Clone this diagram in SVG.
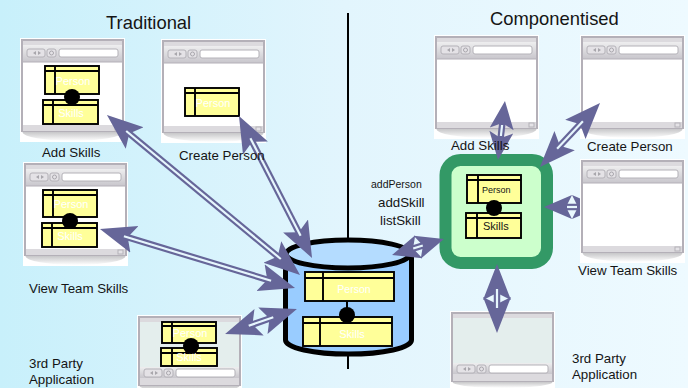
<svg xmlns="http://www.w3.org/2000/svg" width="688" height="388" viewBox="0 0 688 388">
<style>
text{font-family:"Liberation Sans",Arial,sans-serif;fill:#151515}
.lb{font-size:13.3px}
.ttl{font-size:18.4px}
.in{font-size:11px;fill:#fff;text-anchor:middle}
.box{fill:#ffff99;stroke:#000;stroke-width:1.9}
.div{fill:none;stroke:#000;stroke-width:1.9}
.dot{fill:#000}
.shaft{fill:none;stroke:#666699;stroke-width:6.5}
.gap{fill:none;stroke:#e6f6fd;stroke-width:2.2}
.frm{fill:#fff;stroke:#b4b0b8;stroke-width:2}
.bar{fill:#dcdade;stroke:none}
.ctl{fill:#e4e2e6;stroke:#b4b2b8;stroke-width:1}
.fld{fill:#fff;stroke:#b4b2b8;stroke-width:1}
</style>
<defs>
<linearGradient id="bg" x1="0" x2="1" y1="0" y2="0">
<stop offset="0" stop-color="#c8f0fb"/><stop offset=".5" stop-color="#e2f5fd"/><stop offset="1" stop-color="#eefaff"/>
</linearGradient>
<linearGradient id="shd" x1="0" x2="0" y1="0" y2="1">
<stop offset="0" stop-color="#8e8e92"/><stop offset="1" stop-color="#ffffff"/>
</linearGradient>
<linearGradient id="tool" x1="0" x2="0" y1="0" y2="1">
<stop offset="0" stop-color="#eeeeef"/><stop offset="1" stop-color="#c8c6cc"/>
</linearGradient>
<marker id="hd" markerUnits="userSpaceOnUse" markerWidth="40" markerHeight="32" refX="11" refY="16" orient="auto-start-reverse">
<path d="M0,2 L7,16 L0,30 L36,16 Z" fill="#666699"/>
</marker>
<marker id="hs" markerUnits="userSpaceOnUse" markerWidth="32" markerHeight="30" refX="18" refY="15" orient="auto-start-reverse">
<path d="M0,3 L6,15 L0,27 L28,15 Z" fill="#666699"/>
</marker>
<g id="ctrls">
<rect class="ctl" x="6" y="0" width="18" height="8" rx="2"/>
<rect class="ctl" x="26" y="0" width="9" height="8" rx="2"/>
<rect class="fld" x="38" y="0" width="59" height="8" rx="2"/>
<path d="M12,4 l3,-2 v4 z M20,4 l-3,-2 v4 z" fill="#a8a6ac"/>
<circle cx="30.5" cy="4" r="2" fill="none" stroke="#a8a6ac"/>
</g>
<g id="win">
<rect x="-1" y="-1" width="105" height="104" fill="#fff"/>
<ellipse cx="51.5" cy="93" rx="50" ry="9" fill="url(#shd)"/>
<rect class="frm" x="1" y="1" width="101" height="91"/>
<rect class="bar" x="2" y="2" width="99" height="4"/>
<rect x="2" y="6" width="99" height="17" fill="url(#tool)"/>
<use href="#ctrls" x="0" y="10"/>
<path d="M2,23 H101" stroke="#b4b0b8" stroke-width="1"/>
<rect class="bar" x="2" y="86" width="99" height="6"/>
<rect class="ctl" x="94" y="87" width="5" height="4"/>
</g>
<g id="win3">
<rect x="-1" y="-1" width="105" height="80" fill="#fff"/>
<ellipse cx="51.5" cy="70" rx="50" ry="6" fill="url(#shd)"/>
<rect class="frm" x="1" y="1" width="101" height="68" style="fill:#e4eeed"/>
<rect class="bar" x="2" y="2" width="99" height="4"/>
<rect x="2" y="51" width="99" height="11" fill="url(#tool)"/>
<use href="#ctrls" x="0" y="53"/>
<rect class="bar" x="2" y="62" width="99" height="7"/>
</g>
</defs>
<rect id="background" width="688" height="388" fill="url(#bg)"/>
<path id="divider" d="M348,13 V240 M348,354 V369" stroke="#000" stroke-width="2" fill="none"/>
<text class="ttl" x="106" y="29">Traditional</text>
<text class="ttl" x="490" y="25">Componentised</text>

<g id="add-skills-left">
<use href="#win" x="21" y="39"/>
<rect class="box" x="45" y="66" width="54" height="28"/><path class="div" d="M45,71 H99 M55,66 V94"/>
<text class="in" x="73" y="85">Person</text>
<rect class="box" x="43" y="100" width="55" height="24"/><path class="div" d="M43,105 H98 M53,100 V124"/>
<text class="in" x="71" y="117">Skills</text>
<circle class="dot" cx="72" cy="97" r="8"/>
<text class="lb" x="42" y="157">Add Skills</text>
</g>
<g id="create-person-left">
<use href="#win" x="162" y="40"/>
<rect class="box" x="185" y="88" width="54" height="28"/><path class="div" d="M185,93 H239 M195,88 V116"/>
<text class="in" x="213" y="107">Person</text>
</g>
<g id="view-team-left">
<use href="#win" x="24" y="163"/>
<rect class="box" x="43" y="190" width="54" height="27"/><path class="div" d="M43,195 H97 M53,190 V217"/>
<text class="in" x="71" y="208">Person</text>
<rect class="box" x="42" y="223" width="55" height="24"/><path class="div" d="M42,228 H97 M52,223 V247"/>
<text class="in" x="70" y="240">Skills</text>
<circle class="dot" cx="70" cy="221" r="8"/>
<text class="lb" x="29" y="293">View Team Skills</text>
</g>
<g id="third-party-left">
<use href="#win3" x="138" y="316"/>
<rect class="box" x="162" y="322" width="54" height="21"/><path class="div" d="M162,326 H216 M172,322 V343"/>
<text class="in" x="190" y="337">Person</text>
<rect class="box" x="161" y="348" width="56" height="18"/><path class="div" d="M161,353 H217 M172,348 V366"/>
<text class="in" x="189" y="361">Skills</text>
<circle class="dot" cx="191" cy="346" r="8"/>
<text class="lb" x="29" y="368">3rd Party</text>
<text class="lb" x="29" y="384">Application</text>
</g>
<g id="database">
<path d="M285.5,254 V340 A62.5,14 0 0 0 411.5,340 V254 Z" fill="#99ccff" stroke="#000" stroke-width="5"/>
<ellipse cx="348" cy="254" rx="62" ry="14" fill="#b4dcff" stroke="#000" stroke-width="5"/>
<path d="M347,301 V317" stroke="#000" stroke-width="2"/>
<rect class="box" x="305" y="272" width="89" height="29"/><path class="div" d="M305,278 H394 M323,272 V301"/>
<text class="in" x="354" y="293" style="font-size:10.5px">Person</text>
<rect class="box" x="303" y="317" width="89" height="29"/><path class="div" d="M303,323 H392 M320,317 V346"/>
<text class="in" x="352" y="338">Skills</text>
<circle class="dot" cx="347" cy="315" r="8"/>
</g>
<g id="add-skills-right">
<use href="#win" x="435" y="36"/>
</g>
<g id="create-person-right">
<use href="#win" x="581" y="36"/>
<text class="lb" x="587" y="151">Create Person</text>
</g>
<g id="third-party-right">
<use href="#win3" x="451" y="312"/>
<text class="lb" x="572" y="363">3rd Party</text>
<text class="lb" x="572" y="379">Application</text>
</g>
<g id="component">
<rect x="445.5" y="160" width="101.5" height="103" rx="15" fill="#ccffcc" stroke="#339966" stroke-width="12"/>
<rect class="box" x="467" y="175" width="54" height="28"/><path class="div" d="M467,180 H521 M478,175 V203"/>
<text x="482" y="193" style="font-size:9px">Person</text>
<rect class="box" x="466" y="213" width="55" height="25"/><path class="div" d="M466,218 H521 M477,213 V238"/>
<text x="483" y="230" style="font-size:11px">Skills</text>
<circle class="dot" cx="494" cy="208" r="8"/>
</g>
<g id="api-labels">
<text x="371" y="188" style="font-size:10.5px">addPerson</text>
<text class="lb" x="378" y="207">addSkill</text>
<text class="lb" x="380" y="225">listSkill</text>
</g>
<g id="connectors">
<path class="shaft" d="M126.2,131 L280.8,259" marker-start="url(#hd)" marker-end="url(#hd)"/><path class="gap" d="M126.2,131 L280.8,259"/>
<path class="shaft" d="M250.4,138.2 L300.6,235.8" marker-start="url(#hd)" marker-end="url(#hd)"/><path class="gap" d="M250.4,138.2 L300.6,235.8"/>
<path class="shaft" d="M123.9,236.2 L271.1,280.8" marker-start="url(#hd)" marker-end="url(#hd)"/><path class="gap" d="M123.9,236.2 L271.1,280.8"/>
<path class="shaft" d="M248.7,325.8 L273.3,317.2" marker-start="url(#hd)" marker-end="url(#hd)"/><path class="gap" d="M248.7,325.8 L273.3,317.2"/>
<path class="shaft" d="M401.6,252.1 L434.4,241.9" marker-start="url(#hs)" marker-end="url(#hs)"/><path class="gap" d="M413.2,248.5 L422.8,245.5"/>
<path class="shaft" d="M503.8,111 L499.2,150" marker-start="url(#hs)" marker-end="url(#hs)"/><path class="gap" d="M502.1,125 L500.9,136"/>
<path class="shaft" d="M582.9,121.3 L557.1,148.7" marker-start="url(#hd)" marker-end="url(#hd)"/><path class="gap" d="M582.9,121.3 L557.1,148.7"/>
<path class="shaft" d="M554,207 L590,207" marker-start="url(#hs)" marker-end="url(#hs)"/><path class="gap" d="M567,207 L577,207"/>
<path class="shaft" d="M497,289 L497,308" marker-start="url(#hd)" marker-end="url(#hd)"/><path class="gap" d="M497,289 L497,308"/>
</g>
<g id="view-team-right">
<use href="#win" x="581" y="160"/>
<text class="lb" x="578" y="275">View Team Skills</text>
</g>
<g id="overlaid-labels">
<text class="lb" x="179" y="160">Create Person</text>
<text class="lb" x="451" y="150">Add Skills</text>
</g>
</svg>
